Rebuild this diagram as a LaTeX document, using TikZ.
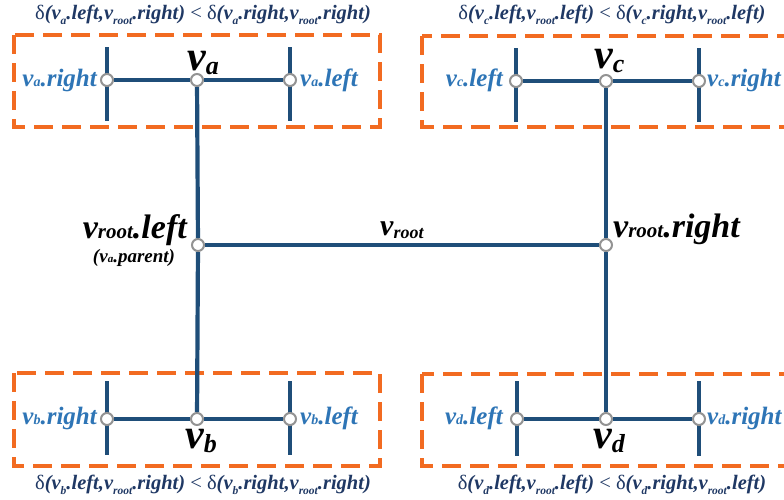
\documentclass[tikz,border=0pt]{standalone}
\usepackage{fontspec}
\setmainfont{Liberation Serif}
\definecolor{navy}{HTML}{1F4E79}
\definecolor{dashorange}{HTML}{F26B21}
\definecolor{labelblue}{HTML}{2E75B6}
\definecolor{textnavy}{HTML}{1F3864}
% small subscript sitting on the baseline
\newcommand\smsub[2]{{\fontsize{#1}{#1}\selectfont #2}}
% lowered subscript
\newcommand\lowsub[3]{\raisebox{#2}{\fontsize{#1}{#1}\selectfont #3}}
\newcommand\dlt{{\upshape\mdseries δ}}
\newcommand\lt{{\upshape\mdseries <}}
\begin{document}
\begin{tikzpicture}[x=1pt,y=-1pt,
  joint/.style={circle,inner sep=0pt,minimum size=12pt,draw=gray!85,line width=2pt,fill=white},
  bar/.style={draw=navy,line width=4.2pt},
  group/.style={draw=dashorange,line width=4pt,dash pattern=on 19pt off 9pt},
  bluelab/.style={font=\fontsize{25}{25}\selectfont\bfseries\itshape,text=labelblue,inner sep=0pt},
  biglab/.style={font=\bfseries\itshape,text=black,inner sep=0pt},
  rootlab/.style={font=\fontsize{34}{34}\selectfont\bfseries\itshape,text=black,inner sep=0pt},
  cond/.style={font=\fontsize{20.5}{20.5}\selectfont\bfseries\itshape,text=textnavy,inner sep=0pt}]
\useasboundingbox (0,0) rectangle (784,499);
\clip (0,0) rectangle (784,499);

% dashed groups
\draw[group] (14,35) rectangle (380,127);
\draw[group] (422,36) rectangle (812,127);
\draw[group] (14,373) rectangle (380,466);
\draw[group] (422,374) rectangle (812,466);

% end ticks
\coordinate (at1) at (107,47);  \coordinate (ab1) at (107,121);
\coordinate (at2) at (290,47);  \coordinate (ab2) at (290,121);
\coordinate (ct1) at (516,48);  \coordinate (cb1) at (516,122);
\coordinate (ct2) at (699,48);  \coordinate (cb2) at (699,122);
\coordinate (bt1) at (107,381); \coordinate (bb1) at (107,455);
\coordinate (bt2) at (290,381); \coordinate (bb2) at (290,455);
\coordinate (dt1) at (517,381); \coordinate (db1) at (517,456);
\coordinate (dt2) at (699,381); \coordinate (db2) at (699,456);
\foreach \t/\b in {at1/ab1,at2/ab2,ct1/cb1,ct2/cb2,bt1/bb1,bt2/bb2,dt1/db1,dt2/db2}
  \draw[bar] (\t) -- (\b);

% joints
\node[joint] (ar) at (107,80) {};
\node[joint] (va) at (197,80) {};
\node[joint] (al) at (290,80) {};
\node[joint] (cl) at (516,81) {};
\node[joint] (vc) at (606,81) {};
\node[joint] (cr) at (699,81) {};
\node[joint] (rl) at (198,245) {};
\node[joint] (rr) at (606,245) {};
\node[joint] (br) at (107,419) {};
\node[joint] (vb) at (197,419) {};
\node[joint] (bl) at (290,419) {};
\node[joint] (dl) at (517,419) {};
\node[joint] (vd) at (606,419) {};
\node[joint] (dr) at (699,419) {};

% connectors
\draw[bar] (ar) -- (va);
\draw[bar] (va) -- (al);
\draw[bar] (cl) -- (vc);
\draw[bar] (vc) -- (cr);
\draw[bar] (br) -- (vb);
\draw[bar] (vb) -- (bl);
\draw[bar] (dl) -- (vd);
\draw[bar] (vd) -- (dr);
\draw[bar] (va) -- (rl);
\draw[bar] (rl) -- (vb);
\draw[bar] (vc) -- (rr);
\draw[bar] (rr) -- (vd);
\draw[bar] (rl) -- (rr);

% end labels
\node[bluelab,anchor=base east] (tar) at (97,86) {v\smsub{14}{a}.right};
\node[bluelab,anchor=base west] (tal) at (300,86) {v\smsub{14}{a}.left};
\node[bluelab,anchor=base east] (tcl) at (503,86) {v\smsub{14}{c}.left};
\node[bluelab,anchor=base west] (tcr) at (707,86) {v\smsub{14}{c}.right};
\node[bluelab,anchor=base east] (tbr) at (97,424) {v\smsub{14}{b}.right};
\node[bluelab,anchor=base west] (tbl) at (300,424) {v\smsub{14}{b}.left};
\node[bluelab,anchor=base east] (tdl) at (503,424) {v\smsub{14}{d}.left};
\node[bluelab,anchor=base west] (tdr) at (707,424) {v\smsub{14}{d}.right};

% node names
\node[biglab,anchor=base west] (nva) at (187,70) {\fontsize{42}{42}\selectfont v\lowsub{26}{-4pt}{a}};
\node[biglab,anchor=base west] (nvc) at (594,68) {\fontsize{42}{42}\selectfont v\lowsub{26}{-4pt}{c}};
\node[biglab,anchor=base west] (nvb) at (185,448) {\fontsize{42}{42}\selectfont v\lowsub{26}{-4pt}{b}};
\node[biglab,anchor=base west] (nvd) at (593,448) {\fontsize{42}{42}\selectfont v\lowsub{26}{-4pt}{d}};

% root labels
\node[rootlab,anchor=base east] (trl) at (187,238) {v\smsub{21}{root}.left};
\node[biglab,anchor=base,font=\fontsize{19}{19}\selectfont\bfseries\itshape] (tpar) at (134,262) {(v\smsub{11}{a}.parent)};
\node[biglab,anchor=base west,font=\fontsize{30}{30}\selectfont\bfseries\itshape] (troot) at (380,235) {v\lowsub{18}{-3pt}{root}};
\node[rootlab,anchor=base west] (trr) at (613,237) {v\smsub{21}{root}.right};

% conditions
\node[cond] (ka) at (203,15) {\dlt(v\lowsub{11.5}{-5pt}{a}.left,v\lowsub{11.5}{-5pt}{root}.right) \lt{} \dlt(v\lowsub{11.5}{-5pt}{a}.right,v\lowsub{11.5}{-5pt}{root}.right)};
\node[cond] (kc) at (612,15) {\dlt(v\lowsub{11.5}{-5pt}{c}.left,v\lowsub{11.5}{-5pt}{root}.left) \lt{} \dlt(v\lowsub{11.5}{-5pt}{c}.right,v\lowsub{11.5}{-5pt}{root}.left)};
\node[cond] (kb) at (203,485) {\dlt(v\lowsub{11.5}{-5pt}{b}.left,v\lowsub{11.5}{-5pt}{root}.right) \lt{} \dlt(v\lowsub{11.5}{-5pt}{b}.right,v\lowsub{11.5}{-5pt}{root}.right)};
\node[cond] (kd) at (612,485) {\dlt(v\lowsub{11.5}{-5pt}{d}.left,v\lowsub{11.5}{-5pt}{root}.left) \lt{} \dlt(v\lowsub{11.5}{-5pt}{d}.right,v\lowsub{11.5}{-5pt}{root}.left)};
\end{tikzpicture}
\end{document}
